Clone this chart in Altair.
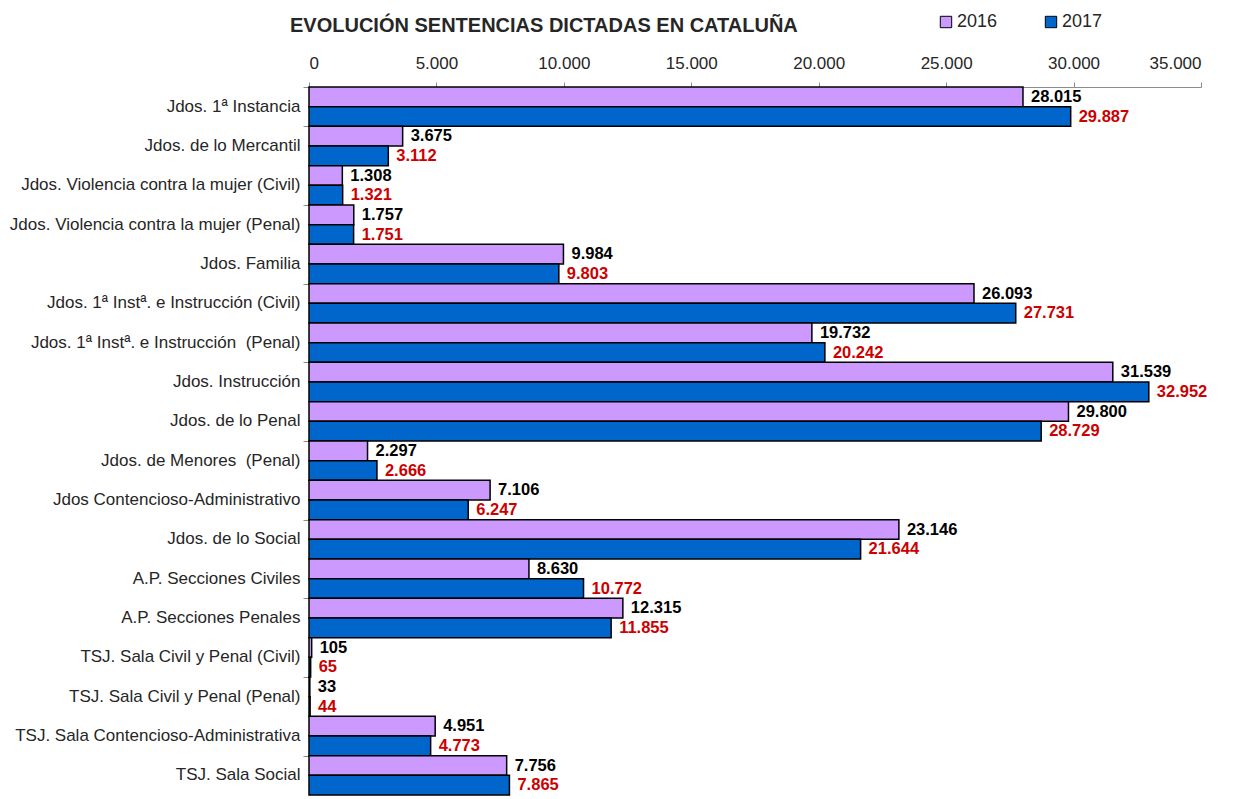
import altair as alt
import pandas as pd

categories = [
    "Jdos. 1ª Instancia\u00a0\u00a0",
    "Jdos. de lo Mercantil",
    "Jdos. Violencia contra la mujer (Civil)",
    "Jdos. Violencia contra la mujer (Penal)",
    "Jdos. Familia",
    "Jdos. 1ª Instª. e Instrucción (Civil)",
    "Jdos. 1ª Instª. e Instrucción \u00a0(Penal)",
    "Jdos. Instrucción",
    "Jdos. de lo Penal",
    "Jdos. de Menores \u00a0(Penal)",
    "Jdos Contencioso-Administrativo",
    "Jdos. de lo Social",
    "A.P. Secciones Civiles\u00a0",
    "A.P. Secciones Penales",
    "TSJ. Sala Civil y Penal (Civil)",
    "TSJ. Sala Civil y Penal (Penal)",
    "TSJ. Sala Contencioso-Administrativa",
    "TSJ. Sala Social",
]
v2016 = [28015, 3675, 1308, 1757, 9984, 26093, 19732, 31539, 29800, 2297,
         7106, 23146, 8630, 12315, 105, 33, 4951, 7756]
v2017 = [29887, 3112, 1321, 1751, 9803, 27731, 20242, 32952, 28729, 2666,
         6247, 21644, 10772, 11855, 65, 44, 4773, 7865]
years = ["2016", "2017"]
x_ticks = [0, 5000, 10000, 15000, 20000, 25000, 30000, 35000]

rows = []
for c, a, b in zip(categories, v2016, v2017):
    rows.append({"cat": c, "year": "2016", "value": a})
    rows.append({"cat": c, "year": "2017", "value": b})
df = pd.DataFrame(rows)

FONT = "Liberation Sans"
fmt = "replace(format(datum.value, ','), ',', '.')"

x_enc = alt.X(
    "value:Q",
    scale=alt.Scale(domain=[0, 35000], nice=False),
    axis=alt.Axis(
        orient="top", values=x_ticks, labelExpr=fmt, grid=False, title=None,
        labelFontSize=17, labelFont=FONT, labelColor="#262626",
        domainColor="#8c8c8c", tickColor="#8c8c8c", tickSize=5, labelPadding=10,
    ),
)
yoff = alt.YOffset("year:N", sort=years, scale=alt.Scale(paddingInner=0, paddingOuter=0))
yscale = alt.Scale(domain=categories, paddingInner=0, paddingOuter=0)

base = alt.Chart(df)

bars = base.mark_bar(stroke="black", strokeWidth=1.5).encode(
    y=alt.Y("cat:N", sort=categories, scale=yscale,
            axis=alt.Axis(title=None, ticks=False, labelFontSize=17, labelFont=FONT,
                          labelColor="#262626", labelPadding=9, labelLimit=400,
                          domainColor="#8c8c8c", orient="left")),
    x=x_enc,
    yOffset=yoff,
    color=alt.Color("year:N", sort=years,
                    scale=alt.Scale(domain=years, range=["#CC99FF", "#0066CC"]),
                    legend=alt.Legend(orient="none", legendX=628, legendY=-74,
                                      direction="horizontal", title=None,
                                      symbolType="square", symbolSize=130,
                                      symbolStrokeColor="black", symbolStrokeWidth=1,
                                      labelFontSize=18, labelFont=FONT, labelColor="#262626",
                                      labelOffset=2, columnPadding=44)),
)

labels = base.transform_calculate(
    label=fmt
).mark_text(align="left", baseline="middle", dx=8, fontSize=16.5, fontWeight="bold", font=FONT).encode(
    y=alt.Y("cat:N", sort=categories, scale=yscale,
            axis=alt.Axis(title=None, labels=False, domain=False, ticks=True,
                          values=categories[0::2], tickBand="extent", tickSize=6,
                          tickColor="#8c8c8c", orient="left")),
    x=x_enc,
    yOffset=yoff,
    text="label:N",
    color=alt.condition("datum.year == '2016'", alt.value("black"), alt.value("#CC0000")),
)

chart = alt.layer(bars, labels).resolve_axis(y="independent").properties(
    width=892,
    height=708,
    autosize=alt.AutoSizeParams(type="none"),
    padding={"left": 301, "top": 79, "right": 30, "bottom": 2},
    title=alt.TitleParams(
        "EVOLUCIÓN SENTENCIAS DICTADAS EN CATALUÑA",
        anchor="start", frame="group", dx=-19, dy=43, offset=20,
        fontSize=20, font=FONT, fontWeight="bold", color="#262626",
    ),
).configure_view(stroke=None)

chart.save("out.html", embed_options={"renderer": "svg", "actions": False})
